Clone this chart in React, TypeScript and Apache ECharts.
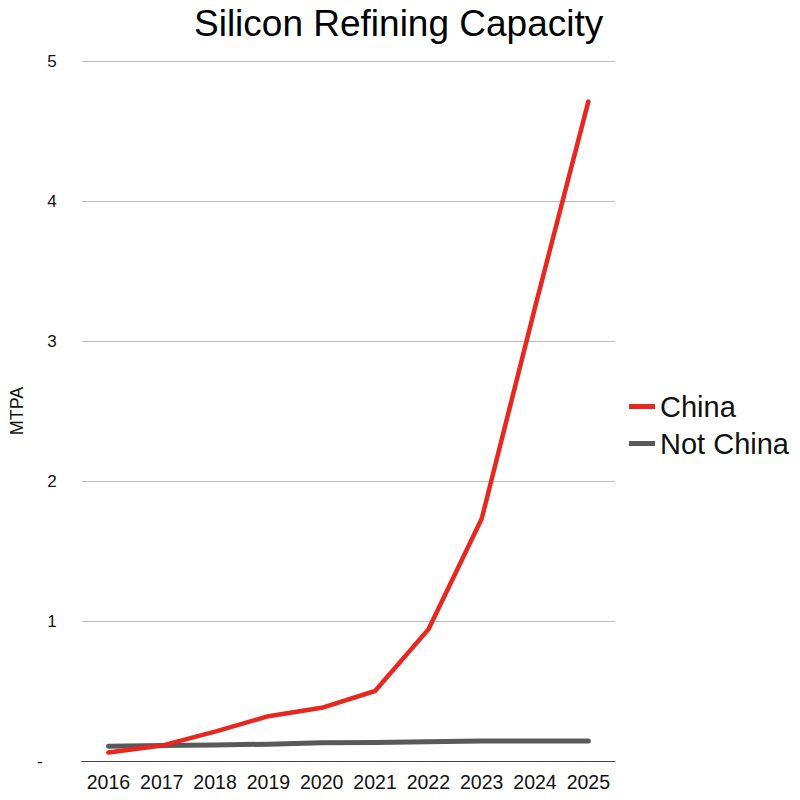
import React, { useEffect, useRef } from "react";
import * as echarts from "echarts";

const years = ["2016", "2017", "2018", "2019", "2020", "2021", "2022", "2023", "2024", "2025"];
const chinaValues = [0.06, 0.11, 0.21, 0.32, 0.38, 0.5, 0.94, 1.73, 3.24, 4.71];
const notChinaValues = [0.105, 0.11, 0.115, 0.12, 0.13, 0.133, 0.138, 0.142, 0.143, 0.143];

const FONT = "'Liberation Sans', Arial, Helvetica, sans-serif";

export default function App() {
  const ref = useRef<HTMLDivElement>(null);
  useEffect(() => {
    if (!ref.current) return;
    const chart = echarts.init(ref.current, undefined, { renderer: "svg" });
    chart.setOption({
      animation: false,
      backgroundColor: "#ffffff",
      textStyle: { fontFamily: FONT },
      title: {
        text: "Silicon Refining Capacity",
        left: 189,
        top: 0,
        textStyle: { fontSize: 37, fontWeight: "normal", color: "#000", fontFamily: FONT },
      },
      legend: {
        orient: "vertical",
        left: 624,
        top: 387,
        itemWidth: 26,
        itemHeight: 5,
        itemGap: 8,
        icon: "rect",
        textStyle: { fontSize: 29, color: "#111", fontFamily: FONT },
        data: ["China", "Not China"],
      },
      grid: { left: 77, right: 185, top: 61, bottom: 39, containLabel: false },
      xAxis: {
        type: "category",
        data: years,
        boundaryGap: true,
        axisLine: { show: true, lineStyle: { color: "#444", width: 1 } },
        axisTick: { show: false },
        axisLabel: { fontSize: 19.5, color: "#111", margin: 11, interval: 0, fontFamily: FONT },
      },
      yAxis: {
        type: "value",
        min: 0,
        max: 5,
        interval: 1,
        name: "MTPA",
        nameLocation: "middle",
        nameGap: 53,
        nameRotate: 90,
        nameTextStyle: { fontSize: 18, color: "#111", fontFamily: FONT },
        axisLine: { show: false },
        axisTick: { show: false },
        axisLabel: {
          fontSize: 17,
          color: "#111",
          margin: 25,
          fontFamily: FONT,
          formatter: (v: number) => (v === 0 ? "-   " : String(v)),
        },
        splitLine: { show: true, lineStyle: { color: "#bdbdbd", width: 1 } },
      },
      series: [
        {
          name: "China",
          type: "line",
          data: chinaValues,
          showSymbol: false,
          symbol: "none",
          itemStyle: { color: "#e8271f" },
          lineStyle: { color: "#e8271f", width: 4.5, cap: "round", join: "round" },
          z: 3,
        },
        {
          name: "Not China",
          type: "line",
          data: notChinaValues,
          showSymbol: false,
          symbol: "none",
          itemStyle: { color: "#595959" },
          lineStyle: { color: "#595959", width: 5, cap: "round", join: "round" },
          z: 2,
        },
      ],
    });
    return () => chart.dispose();
  }, []);
  return (
    <div
      ref={ref}
      style={{ position: "absolute", left: 0, top: 0, width: 800, height: 800 }}
    />
  );
}
